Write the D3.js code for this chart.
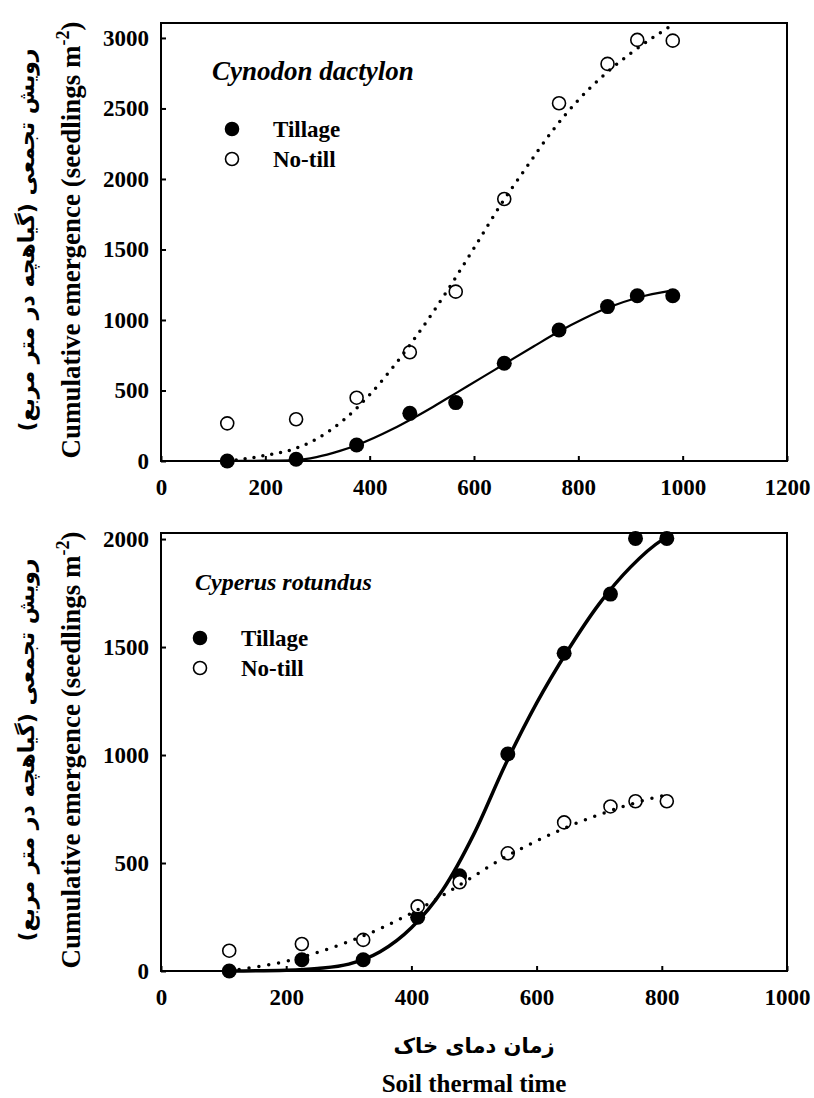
<!DOCTYPE html>
<html>
<head>
<meta charset="utf-8">
<script src="https://cdn.jsdelivr.net/npm/d3@7"></script>
<style>
  body { margin: 0; background: #fff; }
</style>
</head>
<body>
<svg id="chart" width="814" height="1098"></svg>
<script>
// top panel: Cynodon dactylon
const cynX = [127, 259, 375, 477, 565, 658, 763, 856, 913, 981];
const cynTillage = [0, 12, 113, 338, 414, 693, 929, 1095, 1172, 1172];
const cynNoTill = [267, 296, 449, 771, 1201, 1858, 2537, 2816, 2986, 2981];
// fitted curves
const cynTillFitX = [127, 200, 260, 298, 343, 375, 445, 484, 522, 567, 618, 658, 714, 763, 810, 856, 913, 981];
const cynTillFitY = [0, 2, 7, 28, 72, 112, 228, 305, 385, 485, 598, 688, 812, 918, 1008, 1086, 1158, 1210];
const cynNoFitX = [127, 150, 200, 250, 300, 350, 400, 450, 500, 550, 600, 650, 700, 750, 800, 850, 900, 950, 975];
const cynNoFitY = [0, 10, 40, 80, 160, 290, 470, 690, 940, 1215, 1510, 1810, 2080, 2340, 2560, 2740, 2890, 3020, 3080];

// bottom panel: Cyperus rotundus
const cypX = [109, 225, 323, 410, 477, 554, 644, 718, 758, 808];
const cypTillage = [0, 52, 52, 249, 441, 1005, 1471, 1745, 2003, 2003];
const cypNoTill = [94, 125, 144, 299, 411, 545, 688, 762, 786, 786];
const cypTillFitX = [109, 200, 250, 300, 350, 400, 450, 500, 550, 600, 650, 700, 750, 800, 810];
const cypTillFitY = [0, 4, 12, 32, 89, 200, 375, 635, 955, 1240, 1485, 1700, 1870, 1995, 2012];
const cypNoFitX = [109, 150, 200, 250, 300, 350, 400, 450, 500, 550, 600, 650, 700, 750, 800, 810];
const cypNoFitY = [0, 18, 45, 86, 136, 196, 268, 350, 440, 528, 602, 668, 724, 772, 810, 815];

const yLabelEn = 'Cumulative emergence (seedlings m';
const yLabelFa = 'رویش تجمعی (گیاهچه در متر مربع)';
const xLabelFa = 'زمان دمای خاک';
const xLabelEn = 'Soil thermal time';
const legendNames = ['Tillage', 'No-till'];

const serif = '"Liberation Serif", "Times New Roman", serif';
const persian = '"DejaVu Sans", sans-serif';
const left = 161, right = 787;
const svg = d3.select('#chart');

function zip(xs, ys) { return xs.map((x, i) => [x, ys[i]]); }

function styleAxis(a) {
  a.attr('font-family', serif).attr('font-size', 23).attr('font-weight', 'bold');
  a.select('.domain').remove();
  a.selectAll('line').attr('stroke-width', 2);
  a.selectAll('text').attr('fill', '#000');
}

function drawPanel(p) {
  const x = d3.scaleLinear().domain(p.xDomain).range([left, right]);
  const y = d3.scaleLinear().domain(p.yDomain).range([p.bottom, p.top]);
  const g = svg.append('g').attr('font-family', serif).attr('font-weight', 'bold');

  g.append('g')
    .attr('transform', `translate(0,${p.bottom})`)
    .call(d3.axisBottom(x).tickValues(p.xTicks).tickFormat(d3.format('d'))
      .tickSizeInner(-5).tickSizeOuter(0).tickPadding(18))
    .call(styleAxis);

  g.append('g')
    .attr('transform', `translate(${left},0)`)
    .call(d3.axisLeft(y).tickValues(p.yTicks).tickFormat(d3.format('d'))
      .tickSizeInner(-5).tickSizeOuter(0).tickPadding(12))
    .call(styleAxis);

  g.append('rect')
    .attr('x', left).attr('y', p.top)
    .attr('width', right - left).attr('height', p.bottom - p.top)
    .attr('fill', 'none').attr('stroke', '#000').attr('stroke-width', 2);

  // points
  g.selectAll('.fill').data(zip(p.xs, p.tillage)).join('circle')
    .attr('cx', d => x(d[0])).attr('cy', d => y(d[1])).attr('r', 7.5).attr('fill', '#000');
  g.selectAll('.open').data(zip(p.xs, p.notill)).join('circle')
    .attr('cx', d => x(d[0])).attr('cy', d => y(d[1])).attr('r', 6.5)
    .attr('fill', '#fff').attr('stroke', '#000').attr('stroke-width', 1.6);

  const line = d3.line().x(d => x(d[0])).y(d => y(d[1])).curve(d3.curveMonotoneX);
  g.append('path').datum(zip(p.tillFitX, p.tillFitY))
    .attr('d', line).attr('fill', 'none').attr('stroke', '#000').attr('stroke-width', p.solidW);
  g.append('path').datum(zip(p.noFitX, p.noFitY))
    .attr('d', line).attr('fill', 'none').attr('stroke', '#000')
    .attr('stroke-width', 3.5).attr('stroke-linecap', 'round').attr('stroke-dasharray', p.dash);

  // species name
  g.append('text').attr('x', p.titleX).attr('y', p.titleY)
    .attr('font-size', p.titleSize).attr('font-style', 'italic').text(p.title);

  // legend
  legendNames.forEach((name, i) => {
    const ly = p.legendY + i * 30;
    g.append('circle').attr('cx', p.legendX).attr('cy', ly).attr('r', 6.5)
      .attr('fill', i === 0 ? '#000' : '#fff').attr('stroke', '#000').attr('stroke-width', 1.6);
    g.append('text').attr('x', p.legendX + 41).attr('y', ly + 8)
      .attr('font-size', 23).text(name);
  });

  // y titles
  const cy = (p.top + p.bottom) / 2 - 2;
  const t = g.append('text').attr('transform', `translate(80,${cy}) rotate(-90)`)
    .attr('text-anchor', 'middle').attr('font-size', 27);
  t.append('tspan').text(yLabelEn);
  t.append('tspan').attr('font-size', 18).attr('dy', -11).text('-2');
  t.append('tspan').attr('dy', 11).text(')');

  g.append('text').attr('transform', `translate(34,${cy}) rotate(-90)`)
    .attr('font-family', persian).attr('font-weight', 'bold')
    .attr('text-anchor', 'middle').attr('font-size', 22).text(yLabelFa);
}

drawPanel({
  xDomain: [0, 1200], yDomain: [0, 3106], top: 23, bottom: 461,
  xTicks: [0, 200, 400, 600, 800, 1000, 1200], yTicks: [0, 500, 1000, 1500, 2000, 2500, 3000],
  xs: cynX, tillage: cynTillage, notill: cynNoTill,
  tillFitX: cynTillFitX, tillFitY: cynTillFitY, noFitX: cynNoFitX, noFitY: cynNoFitY,
  solidW: 2.2, dash: '0 9',
  title: 'Cynodon dactylon', titleX: 212, titleY: 80, titleSize: 27,
  legendX: 232, legendY: 129
});

drawPanel({
  xDomain: [0, 1000], yDomain: [0, 2028], top: 533, bottom: 971,
  xTicks: [0, 200, 400, 600, 800, 1000], yTicks: [0, 500, 1000, 1500, 2000],
  xs: cypX, tillage: cypTillage, notill: cypNoTill,
  tillFitX: cypTillFitX, tillFitY: cypTillFitY, noFitX: cypNoFitX, noFitY: cypNoFitY,
  solidW: 3.5, dash: '0 10',
  title: 'Cyperus rotundus', titleX: 195, titleY: 590, titleSize: 24,
  legendX: 200, legendY: 638
});

svg.append('text').attr('x', 474).attr('y', 1053)
  .attr('font-family', persian).attr('font-weight', 'bold')
  .attr('text-anchor', 'middle').attr('font-size', 21).text(xLabelFa);
svg.append('text').attr('x', 474).attr('y', 1092)
  .attr('font-family', serif).attr('font-weight', 'bold')
  .attr('text-anchor', 'middle').attr('font-size', 25).text(xLabelEn);
</script>
</body>
</html>
